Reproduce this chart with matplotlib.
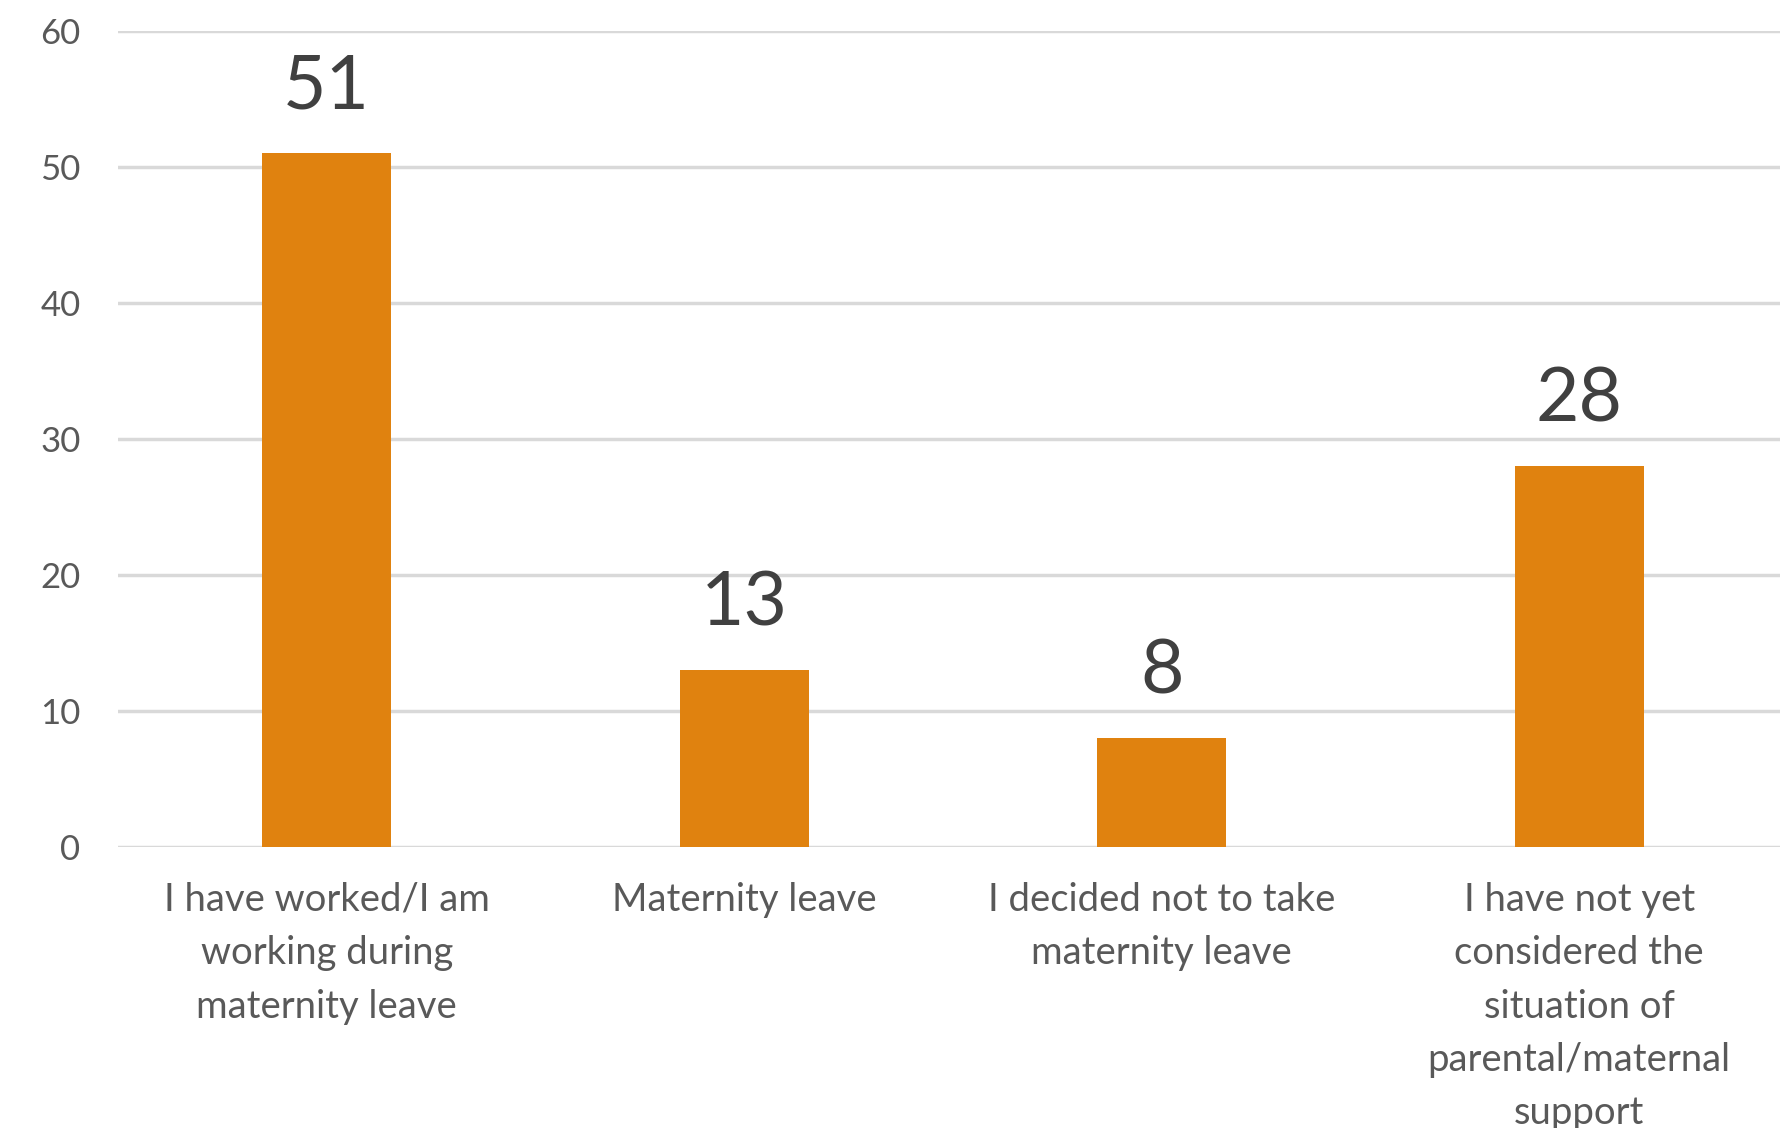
import matplotlib
matplotlib.use("Agg")
import matplotlib.pyplot as plt

categories = ["I have worked/I am\nworking during\nmaternity leave",
              "Maternity leave",
              "I decided not to take\nmaternity leave",
              "I have not yet\nconsidered the\nsituation of\nparental/maternal\nsupport"]
counts = [51, 13, 8, 28]
y_ticks = [0, 10, 20, 30, 40, 50, 60]

bar_color = "#E0820F"
text_color = "#595959"
grid_color = "#D9D9D9"

plt.rcParams['font.family'] = ['Lato', 'DejaVu Sans']

fig = plt.figure(figsize=(17.8, 11.28), dpi=100)
ax = fig.add_axes([118 / 1780, 1 - 847 / 1128, 1670 / 1780, (847 - 30.6) / 1128])

x = list(range(len(categories)))
bars = ax.bar(x, counts, width=0.31, color=bar_color, zorder=3)

for xi, v in zip(x, counts):
    ax.annotate(str(v), (xi, v), xytext=(0, 32), textcoords="offset points",
                ha="center", va="baseline", fontsize=54, color="#404040")

ax.set_xlim(-0.5, 3.5)
ax.set_ylim(0, 60)
ax.set_yticks(y_ticks)
ax.set_xticks(x)
ax.set_xticklabels(categories, fontsize=27.5, color=text_color, linespacing=1.6)
ax.tick_params(axis="y", labelsize=25, labelcolor=text_color, length=0, pad=27)
ax.tick_params(axis="x", length=0, pad=25)

ax.yaxis.grid(True, color=grid_color, linewidth=2.5, zorder=0)
for s in ax.spines.values():
    s.set_visible(False)

fig.savefig("out.png", dpi=100)
